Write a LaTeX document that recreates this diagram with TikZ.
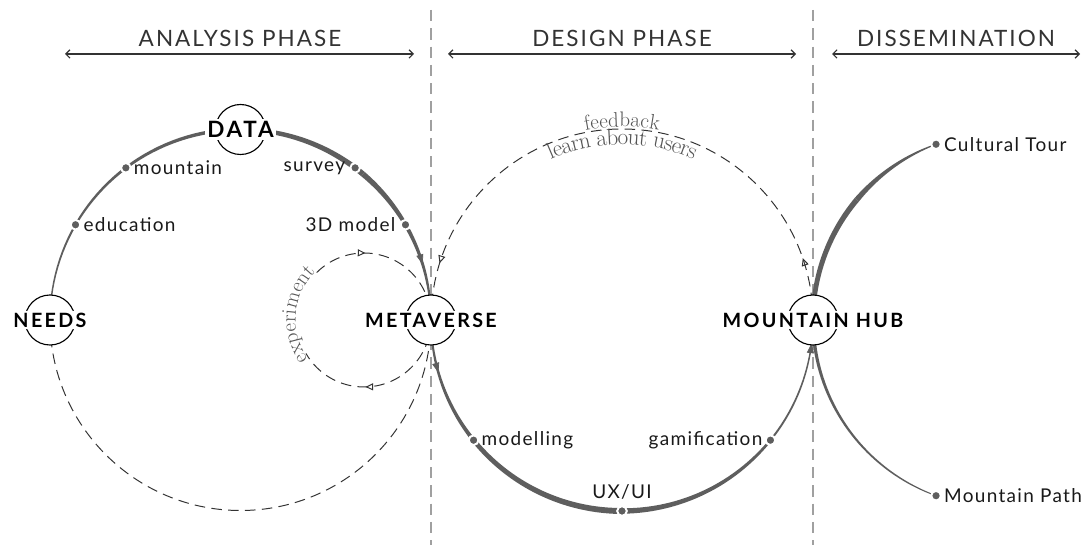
\documentclass[tikz,border=0pt]{standalone}
\usepackage{fontspec}
\newfontfamily\headfont[LetterSpace=9]{Lato}
\newfontfamily\hubfont[LetterSpace=12]{Lato}
\newfontfamily\labelfont[LetterSpace=7]{Lato}
\usetikzlibrary{arrows.meta,calc,positioning,backgrounds,decorations.markings,decorations.text}

\definecolor{arcgray}{HTML}{5E5E5E}
\definecolor{inkgray}{HTML}{333333}
\definecolor{linegray}{HTML}{A0A0A0}
\definecolor{textgray}{HTML}{555555}

\newcommand{\curvefont}{\fontsize{15}{17}\selectfont}
\newcommand{\curvefontwide}{\fontsize{16.5}{18}\selectfont}

% tapered flow: centre, radius, start angle, end angle, start width, end width
\newcommand{\taperarc}[6]{%
	\fill[arcgray, shift={(#1)}]
		plot[domain=#3:#4, samples=40, variable=\t] (\t:{#2+(#5+(#6-(#5))*(\t-(#3))/((#4)-(#3)))/2})
		-- plot[domain=#4:#3, samples=40, variable=\t] (\t:{#2-(#5+(#6-(#5))*(\t-(#3))/((#4)-(#3)))/2})
		-- cycle;}

\begin{document}
\begin{tikzpicture}[x=0.025cm, y=0.025cm,
		% Styles
		hub/.style={circle, draw=black, fill=white, line width=0.8pt, minimum size=1.25cm, inner sep=0pt},
		hubtext/.style={fill=white, inner sep=1.5pt, text=black, font=\hubfont\bfseries\fontsize{14}{16}\selectfont},
		dot/.style={circle, fill=arcgray, draw=white, line width=1.4pt, inner sep=0pt, minimum size=0.24cm},
		lbl/.style={inner sep=0pt, text=black!90, font=\labelfont\fontsize{13.5}{15}\selectfont},
		phase/.style={text=inkgray, font=\headfont\fontsize{16}{18}\selectfont},
		% Lines
		span/.style={{Straight Barb[length=3pt]}-{Straight Barb[length=3pt]}, line width=0.8pt, inkgray},
		divider/.style={linegray, line width=0.8pt, dash pattern=on 8pt off 5pt},
		link/.style={inkgray, line width=0.7pt, dash pattern=on 7.5pt off 4.5pt},
		flowtip/.style={arcgray, line width=0.5pt, -{Triangle[length=7pt, width=5pt]}},
		]

		\useasboundingbox (0,0) rectangle (1091,545);

		% Phases
		\node[phase] (analysis) at (240,507) {ANALYSIS PHASE};
		\node[phase] (design) at (622,507) {DESIGN PHASE};
		\node[phase] (dissem) at (956,507) {DISSEMINATION};
		\draw[span] (65,491) -- (414,491);
		\draw[span] (448,491) -- (796,491);
		\draw[span] (832,491) -- (1080,491);

		% Hubs
		\node[hub] (needs) at (50,225) {};
		\node[hub] (data) at (240.5,415.5) {};
		\node[hub] (metaverse) at (431,225) {};
		\node[hub] (mhub) at (813,225) {};
		\node[hubtext] (needs-t) at (needs) {NEEDS};
		\node[hubtext, font=\hubfont\bfseries\fontsize{16}{18}\selectfont] (data-t) at (data) {DATA};
		\node[hubtext] (metaverse-t) at (metaverse) {METAVERSE};
		\node[hubtext] (mhub-t) at (mhub) {MOUNTAIN HUB};

		% Circle centres
		\coordinate (lc) at ($(needs)!0.5!(metaverse)$);
		\coordinate (mc) at ($(metaverse)!0.5!(mhub)$);
		\coordinate (ec) at ($(metaverse)+(-67,0)$);
		\coordinate (rc) at ($(mhub)+(187,0)$);

		% Stops
		\node[dot] (education) at ($(lc)+(150:190.5)$) {};
		\node[lbl, right=0.05cm of education] (education-t) {education};
		\node[dot] (mountain) at ($(lc)+(127:190.5)$) {};
		\node[lbl, right=0.05cm of mountain] (mountain-t) {mountain};
		\node[dot] (survey) at ($(lc)+(53:190.5)$) {};
		\node[lbl, left=0.1cm of survey] (survey-t) {survey};
		\node[dot] (model) at ($(lc)+(30:190.5)$) {};
		\node[lbl, left=0.1cm of model] (model-t) {3D model};
		\node[dot] (modelling) at ($(mc)+(219:191)$) {};
		\node[lbl, right=0.05cm of modelling] (modelling-t) {modelling};
		\node[dot] (uxui) at ($(mc)+(270:191)$) {};
		\node[lbl, above=0.15cm of uxui] (uxui-t) {UX/UI};
		\node[dot] (gamification) at ($(mc)+(321:191)$) {};
		\node[lbl, left=0.05cm of gamification] (gamification-t) {gamification};
		\node[dot] (tour) at ($(rc)+(110:187)$) {};
		\node[lbl, right=0.05cm of tour] (tour-t) {Cultural Tour};
		\node[dot] (path) at ($(rc)+(250:187)$) {};
		\node[lbl, right=0.05cm of path] (path-t) {Mountain Path};

		\begin{pgfonlayer}{background}
			\fill[white] (0,0) rectangle (1091,545);

			% Phase borders
			\draw[divider] (metaverse |- 0,535) -- (metaverse |- 0,0);
			\draw[divider] (mhub |- 0,535) -- (mhub |- 0,0);

			% Flows
			\taperarc{lc}{190.5}{180}{90}{1.2}{3.8}
			\taperarc{lc}{190.5}{90}{50}{4}{5.5}
			\taperarc{lc}{190.5}{50}{0}{5.5}{1.5}
			\taperarc{mc}{191}{180}{219}{1.5}{4}
			\taperarc{mc}{191}{219}{270}{4.5}{6}
			\taperarc{mc}{191}{270}{321}{5.5}{2.5}
			\taperarc{mc}{191}{321}{360}{2}{1.2}
			\taperarc{rc}{187}{180}{140}{4.5}{5.5}
			\taperarc{rc}{187}{140}{110}{5.5}{1}
			\taperarc{rc}{187}{180}{250}{3.5}{1}
			\draw[flowtip] ([shift={(22:190.5)}]lc) arc[start angle=22, end angle=17, radius=190.5];
			\draw[flowtip] ([shift={(191:191)}]mc) arc[start angle=191, end angle=196, radius=191];
			\draw[flowtip] ([shift={(348:191)}]mc) arc[start angle=348, end angle=353, radius=191];

			% Needs back to metaverse
			\draw[link] (needs.center) arc[start angle=180, end angle=360, radius=190.5];

			% Feedback
			\draw[link, postaction={decorate}, decoration={markings,
				mark=at position 0.105 with {\arrow{Triangle[open, length=5.5pt, width=5pt]}},
				mark=at position 0.904 with {\arrow{Triangle[open, length=5.5pt, width=5pt]}}}]
				(mhub.center) arc[start angle=0, end angle=180, radius=191];
			\path[decorate, decoration={text along path, text={|\curvefont|feedback}, text align=center, raise=1.5pt, text color=textgray}]
				(metaverse.center) arc[start angle=180, end angle=0, radius=191];
			\path[decorate, decoration={text along path, text={|\curvefontwide|learn about users}, text align=center, raise=-11pt, text color=textgray}]
				(metaverse.center) arc[start angle=180, end angle=0, radius=191];

			% Experiment
			\draw[link, postaction={decorate}, decoration={markings,
				mark=at position 0.592 with {\arrow{Triangle[open, length=5.5pt, width=5pt]}}}]
				(metaverse.center) arc[start angle=0, end angle=-150, radius=67];
			\draw[link, postaction={decorate}, decoration={markings,
				mark=at position 0.343 with {\arrow{Triangle[open, length=5.5pt, width=5pt]}}}]
				([shift={(-225:67)}]ec) arc[start angle=-225, end angle=-360, radius=67];
			\path[decorate, decoration={text along path, text={|\curvefont|experiment}, text align=center, raise=1pt, text color=textgray}]
				([shift={(-125:67)}]ec) arc[start angle=-125, end angle=-245, radius=67];
		\end{pgfonlayer}

	\end{tikzpicture}
\end{document}
